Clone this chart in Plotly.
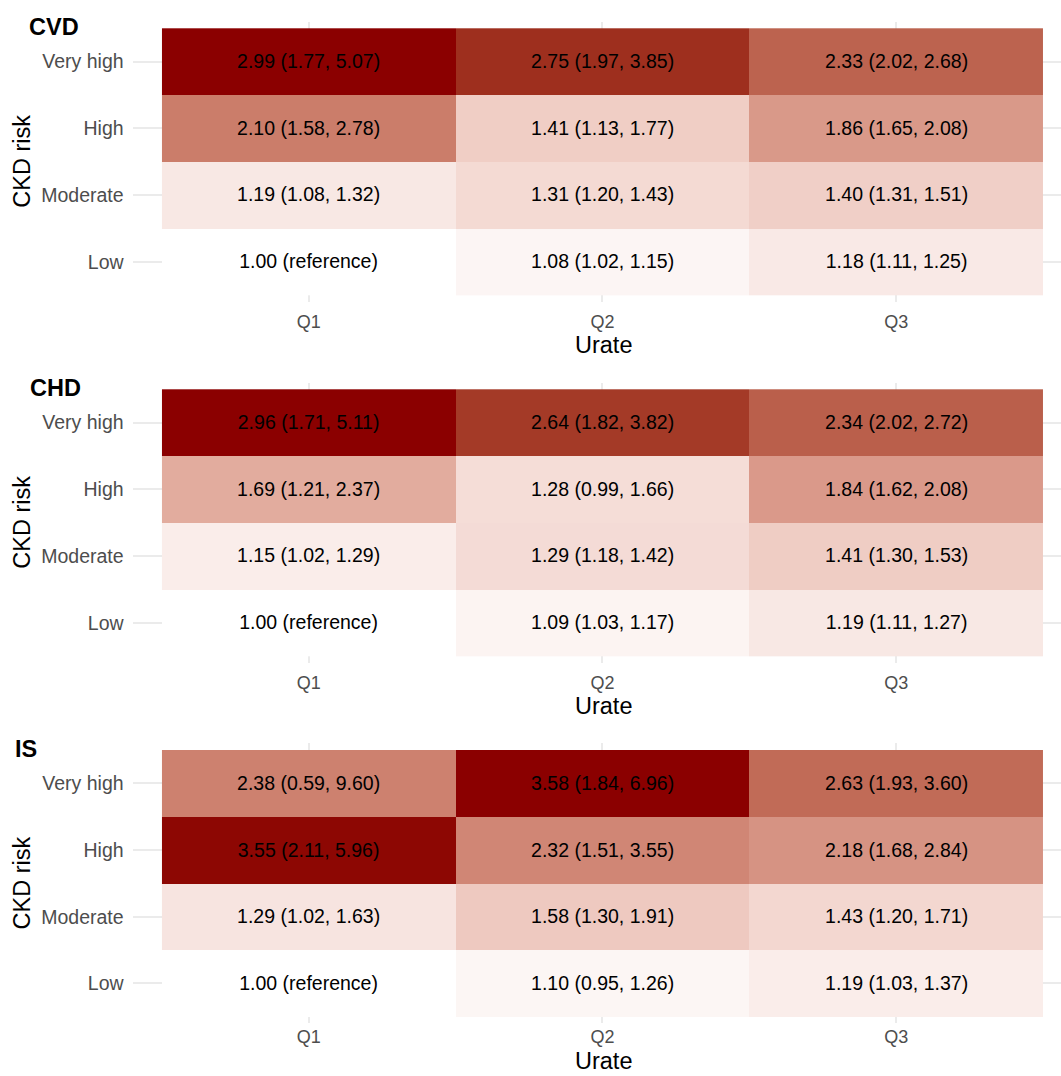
import plotly.graph_objects as go

# ---- data -------------------------------------------------------------
urate_groups = ["Q1", "Q2", "Q3"]
ckd_levels = ["Low", "Moderate", "High", "Very high"]
outcomes = ["CVD", "CHD", "IS"]

# hazard ratios, rows follow ckd_levels, columns follow urate_groups
cvd_hr = [[1.00, 1.08, 1.18], [1.19, 1.31, 1.40], [2.10, 1.41, 1.86], [2.99, 2.75, 2.33]]
cvd_lo = [[None, 1.02, 1.11], [1.08, 1.20, 1.31], [1.58, 1.13, 1.65], [1.77, 1.97, 2.02]]
cvd_hi = [[None, 1.15, 1.25], [1.32, 1.43, 1.51], [2.78, 1.77, 2.08], [5.07, 3.85, 2.68]]

chd_hr = [[1.00, 1.09, 1.19], [1.15, 1.29, 1.41], [1.69, 1.28, 1.84], [2.96, 2.64, 2.34]]
chd_lo = [[None, 1.03, 1.11], [1.02, 1.18, 1.30], [1.21, 0.99, 1.62], [1.71, 1.82, 2.02]]
chd_hi = [[None, 1.17, 1.27], [1.29, 1.42, 1.53], [2.37, 1.66, 2.08], [5.11, 3.82, 2.72]]

is_hr = [[1.00, 1.10, 1.19], [1.29, 1.58, 1.43], [3.55, 2.32, 2.18], [2.38, 3.58, 2.63]]
is_lo = [[None, 0.95, 1.03], [1.02, 1.30, 1.20], [2.11, 1.51, 1.68], [0.59, 1.84, 1.93]]
is_hi = [[None, 1.26, 1.37], [1.63, 1.91, 1.71], [5.96, 3.55, 2.84], [9.60, 6.96, 3.60]]

panels = [
    ("CVD", cvd_hr, cvd_lo, cvd_hi),
    ("CHD", chd_hr, chd_lo, chd_hi),
    ("IS", is_hr, is_lo, is_hi),
]

# ---- colour ramp: white -> darkred interpolated in CIELAB ---------------
def _to_lin(c):
    c = c / 255.0
    return c / 12.92 if c <= 0.04045 else ((c + 0.055) / 1.055) ** 2.4

def _from_lin(c):
    c = 12.92 * c if c <= 0.0031308 else 1.055 * c ** (1 / 2.4) - 0.055
    return min(255, max(0, round(c * 255)))

WHITE_REF = (0.95047, 1.0, 1.08883)

def rgb_to_lab(rgb):
    r, g, b = (_to_lin(v) for v in rgb)
    x = 0.4124564 * r + 0.3575761 * g + 0.1804375 * b
    y = 0.2126729 * r + 0.7151522 * g + 0.0721750 * b
    z = 0.0193339 * r + 0.1191920 * g + 0.9503041 * b
    def f(t):
        return t ** (1 / 3) if t > 216 / 24389 else (24389 / 27 * t + 16) / 116
    fx, fy, fz = f(x / WHITE_REF[0]), f(y / WHITE_REF[1]), f(z / WHITE_REF[2])
    return (116 * fy - 16, 500 * (fx - fy), 200 * (fy - fz))

def lab_to_rgb(lab):
    L, a, b = lab
    fy = (L + 16) / 116
    fx = fy + a / 500
    fz = fy - b / 200
    def finv(t):
        return t ** 3 if t ** 3 > 216 / 24389 else (116 * t - 16) / (24389 / 27)
    x, y, z = finv(fx) * WHITE_REF[0], finv(fy) * WHITE_REF[1], finv(fz) * WHITE_REF[2]
    r = 3.2404542 * x - 1.5371385 * y - 0.4985314 * z
    g = -0.9692660 * x + 1.8760108 * y + 0.0415560 * z
    bb = 0.0556434 * x - 0.2040259 * y + 1.0572252 * z
    return tuple(_from_lin(max(0.0, v)) for v in (r, g, bb))

lab_lo = rgb_to_lab((255, 255, 255))
lab_hi = rgb_to_lab((139, 0, 0))
N_STOPS = 40
colorscale = []
for k in range(N_STOPS + 1):
    t = k / N_STOPS
    lab = tuple(lab_lo[i] + (lab_hi[i] - lab_lo[i]) * t for i in range(3))
    r, g, b = lab_to_rgb(lab)
    colorscale.append([t, f"rgb({r},{g},{b})"])

# ---- layout geometry (pixels) ------------------------------------------
W, H = 1061, 1076
FONT = "Liberation Sans, Arial, sans-serif"
x_left_px = 132.6                    # left edge of each panel
x_unit = (1043 - 162) / 3            # width of one tile
x_range = [-0.6, -0.5 + (W - 162) / x_unit]
tile_tops = [28.3, 389.3, 750.0]
y_unit = 66.7
xtick_standoff = [7, 7, 1]

fig = go.Figure()
annotations = []
title_pos = {"CVD": (27, 27), "CHD": (28, 388), "IS": (13, 749)}

for i, (name, hr, lo, hi) in enumerate(panels):
    labels = []
    for r in range(len(ckd_levels)):
        row = []
        for c in range(len(urate_groups)):
            if lo[r][c] is None:
                row.append(f"{hr[r][c]:.2f} (reference)")
            else:
                row.append(f"{hr[r][c]:.2f} ({lo[r][c]:.2f}, {hi[r][c]:.2f})")
        labels.append(row)

    suffix = "" if i == 0 else str(i + 1)
    fig.add_trace(go.Heatmap(
        x=urate_groups, y=ckd_levels, z=hr,
        text=labels, texttemplate="%{text}",
        textfont=dict(family=FONT, size=19.5, color="black"),
        colorscale=colorscale, zmin=1.0, zmax=max(max(r) for r in hr),
        showscale=False, xgap=0, ygap=0,
        xaxis="x" + suffix, yaxis="y" + suffix,
        hoverinfo="skip",
    ))

    top_px = tile_tops[i] - 0.1 * y_unit
    bot_px = tile_tops[i] + 4.1 * y_unit
    ydom = [1 - bot_px / H, 1 - top_px / H]

    fig.update_layout(**{
        "xaxis" + suffix: dict(
            domain=[x_left_px / W, 1.0], anchor="y" + suffix,
            type="category", categoryorder="array", categoryarray=urate_groups,
            range=x_range, showgrid=True, gridcolor="#EBEBEB", gridwidth=2,
            zeroline=False, showline=False, ticks="",
            tickfont=dict(family=FONT, size=18, color="#4D4D4D"),
            ticklabelstandoff=xtick_standoff[i], fixedrange=True,
        ),
        "yaxis" + suffix: dict(
            domain=ydom, anchor="x" + suffix,
            type="category", categoryorder="array", categoryarray=ckd_levels,
            range=[-0.6, 3.6], showgrid=True, gridcolor="#EBEBEB", gridwidth=2,
            zeroline=False, showline=False, ticks="",
            tickfont=dict(family=FONT, size=19.5, color="#4D4D4D"),
            ticklabelstandoff=8, fixedrange=True,
        ),
    })

    # panel title
    tx, ty = title_pos[name]
    annotations.append(dict(
        text=f"<b>{name}</b>", x=tx / W, y=1 - ty / H, xref="paper", yref="paper",
        xanchor="left", yanchor="middle", showarrow=False,
        font=dict(family=FONT, size=23.5, color="black"),
    ))
    # y axis title
    annotations.append(dict(
        text="CKD risk", x=22 / W, y=1 - (top_px + bot_px) / 2 / H,
        xref="paper", yref="paper", xanchor="center", yanchor="middle",
        textangle=-90, showarrow=False,
        font=dict(family=FONT, size=23.5, color="black"),
    ))
    # x axis title; the last one sits on the bottom edge of the figure
    if i < len(panels) - 1:
        urate_y, urate_anchor = 1 - (tile_tops[i] + 4 * y_unit + 50) / H, "middle"
    else:
        urate_y, urate_anchor = 0.0, "bottom"
    annotations.append(dict(
        text="Urate", x=603 / W, y=urate_y,
        xref="paper", yref="paper", xanchor="center", yanchor=urate_anchor,
        showarrow=False, font=dict(family=FONT, size=23.5, color="black"),
    ))

fig.update_layout(
    width=W, height=H,
    margin=dict(l=0, r=0, t=0, b=0),
    paper_bgcolor="white", plot_bgcolor="white",
    annotations=annotations, showlegend=False,
)

fig.write_html("out.html")
